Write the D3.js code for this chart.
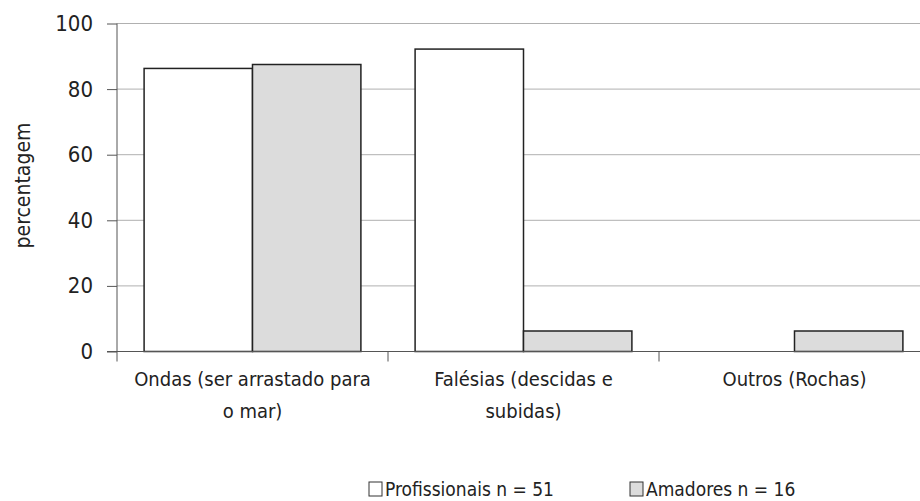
<!DOCTYPE html>
<html>
<head>
<meta charset="utf-8">
<script src="https://cdn.jsdelivr.net/npm/d3@7"></script>
<style>
  html, body { margin: 0; padding: 0; background: #fff; }
  svg text { font-family: "DejaVu Sans Condensed", "Liberation Sans Narrow", sans-serif; fill: #222; }
</style>
</head>
<body>
<svg id="chart" width="920" height="501"></svg>
<script>
// Categories (each may wrap onto two lines)
const categories = [
  ["Ondas (ser arrastado para", "o mar)"],
  ["Falésias (descidas e", "subidas)"],
  ["Outros (Rochas)"]
];
const seriesNames = ["Profissionais n = 51", "Amadores n = 16"];
const profissionais = [86.3, 92.2, 0];
const amadores = [87.5, 6.25, 6.25];
const yTicks = [0, 20, 40, 60, 80, 100];

const series = [
  { name: seriesNames[0], values: profissionais, fill: "#ffffff" },
  { name: seriesNames[1], values: amadores, fill: "#dcdcdc" }
];

const svg = d3.select("#chart");
const margin = { left: 117, right: -10, top: 23.5, bottom: 149.5 };
const W = 920, H = 501;
const innerW = W - margin.left - margin.right;
const innerH = H - margin.top - margin.bottom;

const g = svg.append("g").attr("transform", `translate(${margin.left},${margin.top})`);

const x0 = d3.scaleBand().domain(d3.range(categories.length)).range([0, innerW]).padding(0);
const x1 = d3.scaleBand().domain(d3.range(series.length)).range([0, x0.bandwidth()]).paddingOuter(0.25).paddingInner(0);
const y = d3.scaleLinear().domain([0, 100]).range([innerH, 0]);

// horizontal gridlines
g.append("g")
  .selectAll("line")
  .data(yTicks.filter(d => d > 0))
  .join("line")
  .attr("x1", 0).attr("x2", innerW)
  .attr("y1", d => y(d)).attr("y2", d => y(d))
  .attr("stroke", "#b0b0b0").attr("stroke-width", 1);

// bars
const groups = g.append("g").selectAll("g")
  .data(categories.map((c, i) => i))
  .join("g")
  .attr("transform", i => `translate(${x0(i)},0)`);

groups.selectAll("rect")
  .data(i => series.map((s, j) => ({ j, v: s.values[i], fill: s.fill })).filter(d => d.v > 0))
  .join("rect")
  .attr("x", d => x1(d.j))
  .attr("width", x1.bandwidth())
  .attr("y", d => y(d.v))
  .attr("height", d => y(0) - y(d.v))
  .attr("fill", d => d.fill)
  .attr("stroke", "#222")
  .attr("stroke-width", 1.5);

// y axis
const yAxis = g.append("g")
  .call(d3.axisLeft(y).tickValues(yTicks).tickSize(10).tickPadding(14).tickFormat(d3.format("d")));
yAxis.select(".domain").attr("stroke", "#555").attr("d", `M0,${innerH + 10}V0`);
yAxis.selectAll(".tick line").attr("stroke", "#555");
yAxis.selectAll(".tick text").attr("font-size", 22).style("fill", "#222");

// x axis
const xAxis = g.append("g").attr("transform", `translate(0,${innerH})`);
xAxis.append("line").attr("x1", -10).attr("x2", innerW).attr("stroke", "#555");
xAxis.selectAll("line.tk")
  .data(d3.range(1, categories.length))
  .join("line").attr("class", "tk")
  .attr("x1", i => x0(i)).attr("x2", i => x0(i))
  .attr("y1", 0).attr("y2", 10)
  .attr("stroke", "#555");

const labels = xAxis.selectAll("text.cat")
  .data(categories)
  .join("text").attr("class", "cat")
  .attr("text-anchor", "middle")
  .attr("font-size", 20)
  .attr("transform", (d, i) => `translate(${x0(i) + x0.bandwidth() / 2},${34})`);
labels.selectAll("tspan")
  .data(d => d)
  .join("tspan")
  .attr("x", 0)
  .attr("dy", (d, k) => k === 0 ? 0 : 32)
  .text(d => d);

// y axis title
svg.append("text")
  .attr("transform", `translate(30,${margin.top + innerH / 2 - 2}) rotate(-90)`)
  .attr("text-anchor", "middle")
  .attr("font-size", 21)
  .text("percentagem");

// legend
const legendX = [369, 630];
const legend = svg.append("g").selectAll("g")
  .data(series)
  .join("g")
  .attr("transform", (d, i) => `translate(${legendX[i]},482)`);
legend.append("rect")
  .attr("width", 13).attr("height", 14)
  .attr("fill", d => d.fill)
  .attr("stroke", "#333").attr("stroke-width", 1);
legend.append("text")
  .attr("x", 16).attr("y", 14)
  .attr("font-size", 19)
  .text(d => d.name);
</script>
</body>
</html>
